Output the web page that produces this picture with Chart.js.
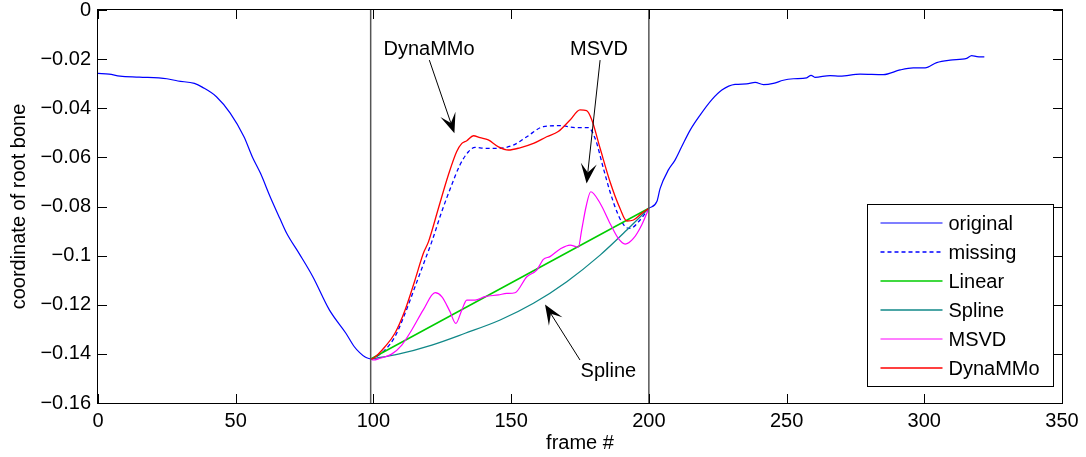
<!DOCTYPE html>
<html>
<head>
<meta charset="utf-8">
<script src="https://cdn.jsdelivr.net/npm/chart.js@4.4.0/dist/chart.umd.min.js"></script>
<style>
  html, body { margin: 0; padding: 0; background: #fff; }
  #wrap { width: 1086px; height: 457px; position: relative; }
</style>
</head>
<body>
<div id="wrap"><canvas id="plot"></canvas></div>
<script>
// axis ticks
const xTicks = [0, 50, 100, 150, 200, 250, 300, 350];
const yTicks = [-0.16, -0.14, -0.12, -0.1, -0.08, -0.06, -0.04, -0.02, 0];
const yTickLabels = ['\u22120.16', '\u22120.14', '\u22120.12', '\u22120.1', '\u22120.08', '\u22120.06', '\u22120.04', '\u22120.02', '0'];

// gap in the data (frames)
const gapFrames = [99, 200];

// original motion (gap left out)
const originalFrames = [0, 4, 8, 15, 25, 29, 35, 38, 43, 48, 53, 56, 59, 62.5, 66, 68.5, 73, 78, 84, 90, 93, 95, 97, 99,
  150,
  200, 202.9, 204.1, 207.1, 209.5, 211.9, 215, 218.6, 222.8, 226.5, 231.3, 235.5, 238.6, 241.6, 245.2, 248.8, 252.5,
  257.3, 258.9, 260.3, 265.8, 269.4, 276.7, 285.1, 291.2, 296, 300.3, 304.5, 309.4, 315.4, 317.2, 319.1, 321.8];
const originalValues = [-0.0258, -0.0261, -0.0269, -0.0273, -0.0280, -0.0289, -0.0299, -0.0315, -0.0353, -0.0420, -0.0516,
  -0.0597, -0.0665, -0.0760, -0.0848, -0.0909, -0.0991, -0.1086, -0.1221, -0.1316, -0.1370, -0.1395, -0.1413, -0.1421,
  null,
  -0.0807, -0.0780, -0.0726, -0.0651, -0.0611, -0.0557, -0.0489, -0.0428, -0.0366, -0.0326, -0.0303, -0.0301, -0.0295,
  -0.0304, -0.0299, -0.0286, -0.0280, -0.0276, -0.0266, -0.0274, -0.0267, -0.0269, -0.0261, -0.0263, -0.0244, -0.0236,
  -0.0236, -0.0214, -0.0204, -0.0197, -0.0186, -0.0190, -0.0191];

// true values inside the gap
const missingFrames = [99, 100, 104.2, 107.8, 111.5, 115.1, 118.7, 121.2, 124.8, 128.4, 131.4, 134.5, 136.9, 140.5, 145.4,
  150.8, 155.7, 161.7, 167.8, 173.8, 178, 180.5, 183.5, 185.9, 188.9, 191.4, 193.2, 196.8, 200];
const missingValues = [-0.1421, -0.1418, -0.1384, -0.1330, -0.1235, -0.1127, -0.1018, -0.0943, -0.0821, -0.0713, -0.0631,
  -0.0577, -0.0559, -0.0563, -0.0563, -0.0550, -0.0516, -0.0475, -0.0471, -0.0479, -0.0479, -0.0523, -0.0645, -0.0740,
  -0.0835, -0.0882, -0.0889, -0.0855, -0.0807];

const linearFrames = [99, 200];
const linearValues = [-0.1421, -0.0807];

const splineFrames = [99, 109, 121.2, 133.3, 146, 158.1, 170.2, 182.3, 192, 200];
const splineValues = [-0.1421, -0.1401, -0.1364, -0.1316, -0.1262, -0.1194, -0.1106, -0.0998, -0.0896, -0.0807];

const msvdFrames = [99, 100, 102.4, 106.6, 110.3, 113.9, 118.1, 122.4, 124.8, 127.8, 129.9, 132.1, 133.9, 136.9, 140.5,
  145.4, 148.4, 151.4, 155.7, 159.3, 161.7, 164.1, 167.8, 171.4, 174.4, 175.6, 177.2, 178.9, 182.3, 185.9, 188.9, 191.4,
  194.4, 197.4, 200];
const msvdValues = [-0.1421, -0.1425, -0.1418, -0.1401, -0.1364, -0.1303, -0.1221, -0.1151, -0.1167, -0.1228, -0.1276,
  -0.1221, -0.1181, -0.1181, -0.1167, -0.1160, -0.1154, -0.1151, -0.1086, -0.1059, -0.1015, -0.1004, -0.0973, -0.0957,
  -0.0966, -0.0896, -0.0801, -0.0740, -0.0787, -0.0869, -0.0930, -0.0953, -0.0930, -0.0875, -0.0807];

const dynammoFrames = [99, 100, 104.2, 107.8, 111.5, 115.1, 118.1, 120, 123.6, 127.2, 130.2, 132.1, 133.9, 136.3, 138.7,
  141.7, 145.4, 149, 153.2, 158.1, 162.9, 167.1, 171.4, 175, 177.4, 179.3, 182.3, 185.9, 189.5, 192, 194.4, 197.4, 200];
const dynammoValues = [-0.1421, -0.1418, -0.1371, -0.1316, -0.1221, -0.1099, -0.0991, -0.0943, -0.0807, -0.0672, -0.0577,
  -0.0543, -0.0532, -0.0512, -0.0520, -0.0529, -0.0557, -0.0570, -0.0561, -0.0543, -0.0516, -0.0495, -0.0448, -0.0407,
  -0.0410, -0.0448, -0.0563, -0.0699, -0.0807, -0.0859, -0.0855, -0.0828, -0.0807];

// text callouts with arrows, in data units
const callouts = [
  { text: 'DynaMMo', at: [120.2, -0.0159], from: [120.3, -0.0204], to: [129.4, -0.0502] },
  { text: 'MSVD', at: [181.9, -0.0159], from: [182.3, -0.0204], to: [177.4, -0.0706] },
  { text: 'Spline', at: [185.3, -0.1473], from: [175, -0.1425], to: [162.3, -0.1199] }
];

const FONT = '"Liberation Sans", Arial, Helvetica, sans-serif';

function pts(xs, ys) {
  return xs.map((x, i) => ({ x: x, y: ys[i] }));
}

function line(label, xs, ys, color, width, extra) {
  return Object.assign({
    label: label,
    data: pts(xs, ys),
    borderColor: color,
    backgroundColor: color,
    borderWidth: width,
    pointRadius: 0,
    fill: false,
    spanGaps: false,
    cubicInterpolationMode: 'monotone'
  }, extra || {});
}

const datasets = [
  line('original', originalFrames, originalValues, '#0000ff', 1.2, { order: 6 }),
  line('missing', missingFrames, missingValues, '#0000ff', 1.3, { order: 5, borderDash: [4, 3] }),
  line('Linear', linearFrames, linearValues, '#00cc00', 1.5, { order: 4 }),
  line('Spline', splineFrames, splineValues, '#108888', 1.3, { order: 3 }),
  line('MSVD', msvdFrames, msvdValues, '#ff00ff', 1.2, { order: 2 }),
  line('DynaMMo', dynammoFrames, dynammoValues, '#ff0000', 1.3, { order: 1 })
];
// borders of the gap
gapFrames.forEach(f => {
  datasets.push(line('', [f, f], [yTicks[0], yTicks[yTicks.length - 1]], '#555555', 1.5, { order: 0, noLegend: true }));
});

const frame = {
  id: 'frame',
  afterDatasetsDraw(chart) {
    const { ctx, chartArea: a, scales } = chart;
    ctx.save();
    ctx.strokeStyle = '#000';
    ctx.lineWidth = 1;
    ctx.strokeRect(Math.round(a.left) - 0.5, Math.round(a.top) - 0.5, Math.round(a.right - a.left) + 1, Math.round(a.bottom - a.top) + 1);
    ctx.beginPath();
    xTicks.forEach(v => {
      const px = Math.round(scales.x.getPixelForValue(v)) + 0.5;
      ctx.moveTo(px, a.bottom); ctx.lineTo(px, a.bottom - 9);
      ctx.moveTo(px, a.top); ctx.lineTo(px, a.top + 9);
    });
    yTicks.forEach(v => {
      const py = Math.round(scales.y.getPixelForValue(v)) + 0.5;
      ctx.moveTo(a.left, py); ctx.lineTo(a.left + 9, py);
      ctx.moveTo(a.right, py); ctx.lineTo(a.right - 9, py);
    });
    ctx.stroke();

    // callouts
    ctx.font = '20px ' + FONT;
    ctx.fillStyle = '#000';
    ctx.textAlign = 'center';
    ctx.textBaseline = 'middle';
    callouts.forEach(c => {
      const tx = scales.x.getPixelForValue(c.at[0]);
      const ty = scales.y.getPixelForValue(c.at[1]);
      ctx.fillText(c.text, tx, ty);
      const x0 = scales.x.getPixelForValue(c.from[0]);
      const y0 = scales.y.getPixelForValue(c.from[1]);
      const x1 = scales.x.getPixelForValue(c.to[0]);
      const y1 = scales.y.getPixelForValue(c.to[1]);
      const len = Math.hypot(x1 - x0, y1 - y0);
      const ux = (x1 - x0) / len, uy = (y1 - y0) / len;
      const nx = -uy, ny = ux;
      const L = 20, W = 8, notch = 0.55;
      ctx.beginPath();
      ctx.lineWidth = 1;
      ctx.moveTo(x0, y0);
      ctx.lineTo(x1 - ux * L * notch, y1 - uy * L * notch);
      ctx.stroke();
      ctx.beginPath();
      ctx.moveTo(x1, y1);
      ctx.lineTo(x1 - ux * L + nx * W, y1 - uy * L + ny * W);
      ctx.lineTo(x1 - ux * L * notch, y1 - uy * L * notch);
      ctx.lineTo(x1 - ux * L - nx * W, y1 - uy * L - ny * W);
      ctx.closePath();
      ctx.fill();
    });

    // legend box
    const items = chart.data.datasets.filter(d => !d.noLegend);
    const bw = 186, bh = 182;
    const bx = Math.round(a.right - 9 - bw) + 0.5;
    const by = Math.round(a.bottom - 17 - bh) + 0.5;
    ctx.fillStyle = '#fff';
    ctx.fillRect(bx, by, bw, bh);
    ctx.strokeStyle = '#000';
    ctx.lineWidth = 1;
    ctx.strokeRect(bx, by, bw, bh);
    ctx.textAlign = 'left';
    items.forEach((d, i) => {
      const y = by + 18.5 + i * 29;
      ctx.beginPath();
      ctx.strokeStyle = d.borderColor;
      ctx.lineWidth = d.borderWidth;
      ctx.setLineDash(d.borderDash || []);
      ctx.moveTo(bx + 13, y);
      ctx.lineTo(bx + 75, y);
      ctx.stroke();
      ctx.setLineDash([]);
      ctx.fillStyle = '#000';
      ctx.fillText(d.label, bx + 81, y + 1);
    });
    ctx.restore();
  }
};

new Chart(document.getElementById('plot').getContext('2d'), {
  type: 'line',
  data: { datasets: datasets },
  options: {
    responsive: true,
    maintainAspectRatio: false,
    animation: false,
    layout: { padding: { top: 10, right: 24, left: 0, bottom: 0 } },
    plugins: { legend: { display: false }, tooltip: { enabled: false } },
    scales: {
      x: {
        type: 'linear',
        min: 0,
        max: 350,
        afterBuildTicks: s => { s.ticks = xTicks.map(v => ({ value: v })); },
        afterFit: s => { s.height = 54; s.paddingLeft = 0; s.paddingRight = 0; },
        grid: { display: false, drawTicks: false },
        border: { display: false },
        ticks: { color: '#000', padding: 8, maxRotation: 0, font: { family: FONT, size: 20, lineHeight: 1 } },
        title: { display: true, text: 'frame #', color: '#000', padding: { top: 0, bottom: 2 }, font: { family: FONT, size: 20 } }
      },
      y: {
        type: 'linear',
        min: -0.16,
        max: 0,
        afterBuildTicks: s => { s.ticks = yTicks.map(v => ({ value: v })); },
        afterFit: s => { s.width = 98; s.paddingTop = 0; s.paddingBottom = 0; },
        grid: { display: false, drawTicks: false },
        border: { display: false },
        ticks: {
          color: '#000',
          padding: 7,
          font: { family: FONT, size: 20, lineHeight: 1 },
          callback: function (value) {
            const i = yTicks.findIndex(t => Math.abs(t - value) < 1e-9);
            return i >= 0 ? yTickLabels[i] : '';
          }
        },
        title: { display: true, text: 'coordinate of root bone', color: '#000', padding: { top: 7, bottom: 0 }, font: { family: FONT, size: 20 } }
      }
    }
  },
  plugins: [frame]
});
</script>
</body>
</html>
